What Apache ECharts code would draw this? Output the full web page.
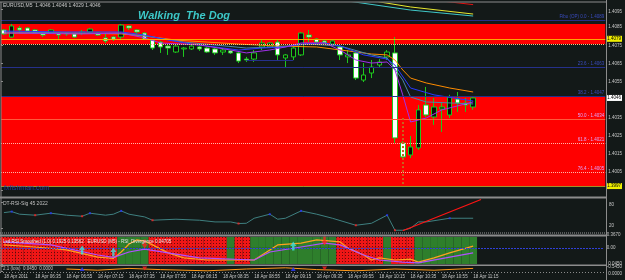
<!DOCTYPE html>
<html>
<head>
<title>index.html</title>
<meta http-equiv="content-type" content="text/html; charset=UTF-8">
<style type="text/css">
html, body { margin: 0; padding: 0; background: #131918; }
#main { width: 625px; height: 280px; }
</style>
</head>
<body>
  <div id="main"></div>
</body>
<script type="text/javascript" src="https://cdn.jsdelivr.net/npm/echarts@6/dist/echarts.min.js"></script>
<script>
  var timeLabels = ['18 Apr 2011', '18 Apr 06:35', '18 Apr 06:55', '18 Apr 07:15', '18 Apr 07:35', '18 Apr 07:55',
    '18 Apr 08:15', '18 Apr 08:35', '18 Apr 08:55', '18 Apr 09:15', '18 Apr 09:35', '18 Apr 09:55',
    '18 Apr 10:15', '18 Apr 10:35', '18 Apr 10:55', '18 Apr 11:15'];

  // open, close, low, high
  var candles = [
    [1.40835, 1.40813, 1.40807, 1.40840], [1.40796, 1.40857, 1.40791, 1.40868], [1.40846, 1.40835, 1.40818, 1.40857],
    [1.40846, 1.40829, 1.40824, 1.40851], [1.40835, 1.40818, 1.40813, 1.40840], [1.40818, 1.40807, 1.40796, 1.40824],
    [1.40818, 1.40835, 1.40813, 1.40840], [1.40818, 1.40807, 1.40785, 1.40824], [1.40818, 1.40813, 1.40802, 1.40824],
    [1.40813, 1.40796, 1.40791, 1.40818], [1.40818, 1.40824, 1.40807, 1.40835], [1.40824, 1.40840, 1.40813, 1.40846],
    [1.40818, 1.40807, 1.40802, 1.40824], [1.40791, 1.40774, 1.40763, 1.40818], [1.40796, 1.40785, 1.40774, 1.40802],
    [1.40796, 1.40862, 1.40779, 1.40868], [1.40857, 1.40846, 1.40835, 1.40862], [1.40835, 1.40824, 1.40813, 1.40840],
    [1.40818, 1.40785, 1.40779, 1.40824], [1.40779, 1.40735, 1.40724, 1.40785], [1.40768, 1.40741, 1.40708, 1.40774],
    [1.40746, 1.40735, 1.40697, 1.40752], [1.40713, 1.40746, 1.40708, 1.40752], [1.40730, 1.40735, 1.40686, 1.40741],
    [1.40730, 1.40746, 1.40724, 1.40757], [1.40741, 1.40730, 1.40719, 1.40746], [1.40735, 1.40713, 1.40708, 1.40741],
    [1.40730, 1.40708, 1.40697, 1.40735], [1.40713, 1.40724, 1.40697, 1.40735], [1.40719, 1.40708, 1.40702, 1.40724],
    [1.40708, 1.40663, 1.40652, 1.40713], [1.40674, 1.40669, 1.40658, 1.40686], [1.40674, 1.40708, 1.40658, 1.40724],
    [1.40741, 1.40763, 1.40724, 1.40779], [1.40741, 1.40763, 1.40735, 1.40768], [1.40768, 1.40697, 1.40669, 1.40779],
    [1.40680, 1.40697, 1.40630, 1.40702], [1.40686, 1.40735, 1.40669, 1.40741], [1.40697, 1.40818, 1.40691, 1.40824],
    [1.40807, 1.40796, 1.40768, 1.40835], [1.40785, 1.40768, 1.40763, 1.40791], [1.40774, 1.40763, 1.40757, 1.40779],
    [1.40757, 1.40774, 1.40752, 1.40779], [1.40741, 1.40697, 1.40669, 1.40746], [1.40686, 1.40697, 1.40652, 1.40724],
    [1.40708, 1.40569, 1.40558, 1.40713], [1.40558, 1.40586, 1.40547, 1.40652], [1.40597, 1.40630, 1.40569, 1.40669],
    [1.40641, 1.40658, 1.40630, 1.40674], [1.40686, 1.40713, 1.40669, 1.40724], [1.40708, 1.40238, 1.40210, 1.40796],
    [1.40210, 1.40133, 1.40116, 1.40221], [1.40144, 1.40188, 1.40127, 1.40249], [1.40183, 1.40393, 1.40172, 1.40420],
    [1.40420, 1.40365, 1.40354, 1.40520], [1.40354, 1.40409, 1.40310, 1.40459], [1.40398, 1.40409, 1.40271, 1.40431],
    [1.40365, 1.40464, 1.40348, 1.40476], [1.40453, 1.40431, 1.40382, 1.40492], [1.40431, 1.40420, 1.40382, 1.40459],
    [1.40409, 1.40459, 1.40393, 1.40465]
  ];

  // moving averages, [bar index, price]
  var maOrange = [[0, 1.40818], [8, 1.40818], [15, 1.40813], [18, 1.40802], [22, 1.40779], [26, 1.40768], [30, 1.40757],
    [35, 1.40746], [40, 1.40741], [44, 1.40719], [47, 1.40702], [49, 1.40697], [50, 1.40669], [51, 1.40614],
    [52, 1.40569], [54, 1.40542], [57, 1.40514], [60, 1.40492]];
  var maBlue = [[0, 1.40829], [8, 1.40824], [15, 1.40824], [18, 1.40807], [21, 1.40779], [24, 1.40757], [27, 1.40741],
    [30, 1.40724], [33, 1.40735], [36, 1.40741], [38, 1.40757], [41, 1.40763], [43, 1.40746], [46, 1.40697],
    [49, 1.40674], [50, 1.40641], [52, 1.40514], [55, 1.40476], [60, 1.40442]];
  var maPurple = [[0, 1.40818], [10, 1.40813], [15, 1.40818], [18, 1.40791], [20, 1.40763], [25, 1.40752], [29, 1.40724],
    [31, 1.40708], [34, 1.40724], [36, 1.40741], [38, 1.40763], [41, 1.40763], [43, 1.40724], [45, 1.40669],
    [47, 1.40652], [49, 1.40658], [50, 1.40614], [51, 1.40476], [52, 1.40326], [54, 1.40348], [56, 1.40393], [60, 1.40437]];
  var maTeal = [[0, 1.40824], [10, 1.40818], [15, 1.40818], [19, 1.40796], [23, 1.40768], [27, 1.40752], [31, 1.40735],
    [35, 1.40741], [39, 1.40757], [43, 1.40746], [47, 1.40697], [49, 1.40680], [51, 1.40558], [52, 1.40464],
    [54, 1.40437], [60, 1.40426]];
  var topYellow = [[46, 1.41017], [48, 1.40990], [52, 1.40962], [60, 1.40923]];
  var topCyan = [[40, 1.41028], [43, 1.41001], [52, 1.40945], [60, 1.40912]];
  var topRed = [[54, 1.41012], [56, 1.40995], [60, 1.40975]];

  var redBands = [[1.40868, 1.40757], [1.40464, 1.39972]];
  var fibLevels = [1.4089, 1.4063, 1.4047, 1.4034, 1.4021, 1.4005];
  var fibNames = ['Fibo (OP) 0.0', '23.6', '38.2', '50.0', '61.8', '76.4'];
  var priceTicks = [1.3995, 1.4005, 1.4015, 1.4025, 1.4035, 1.4055, 1.4065, 1.4075, 1.4085, 1.4095];

  // RSI panel
  var rsiLine = [[0, 55.6], [1, 57.9], [2, 52], [4, 49.7], [6, 54.3], [8, 49.7], [10, 47.3], [11, 54.3], [13, 49.7],
    [14, 52], [15, 59.6], [16, 52], [18, 45.7], [19, 38.1], [22, 40.4], [25, 38.1], [27, 34.2], [29, 34.2],
    [30, 30.5], [31, 31.1], [32, 42.7], [34, 52], [35, 40.4], [36, 42.7], [38, 59.6], [40, 52], [42, 42.7],
    [45, 26.5], [47, 31.1], [49, 49.7], [50, 15], [51, 15], [52, 19.6], [53, 34.2], [54, 34.2], [57, 42.7], [60, 42.7]];
  var rsiSignal = [[51, 14], [61, 86]];
  var rsiBlueDots = [[1, 57.9], [6, 54.3], [11, 54.3], [15, 59.6], [34, 52], [38, 59.6], [49, 49.7], [57, 42.7]];
  var rsiRedDots = [[4, 49.7], [10, 47.3], [19, 38.1], [30, 30.5], [45, 26.5], [50, 15]];
  var rsiTicks = [20, 80];

  // oscillator panel
  var oscFast = [[0, 0.10], [4, 0.03], [8, -0.07], [12, -0.31], [14, -0.36], [15, -0.14], [16, 0.13], [17, 0.27],
    [18, 0.23], [19, 0.10], [21, -0.17], [23, -0.34], [26, -0.41], [29, -0.41], [32, -0.41], [33, -0.24], [35, 0.10],
    [38, 0.16], [40, 0.27], [43, 0.20], [44, -0.01], [46, -0.24], [47, -0.41], [48, -0.34], [50, -0.41], [52, -0.38],
    [53, -0.48], [55, -0.34], [57, -0.17], [60, 0.06]];
  var oscSlow = [[0, 0.20], [6, 0.10], [12, -0.24], [14, -0.32], [16, -0.14], [18, -0.04], [21, -0.17], [25, -0.34],
    [32, -0.41], [34, -0.14], [38, 0.03], [41, 0.16], [43, 0.10], [46, -0.24], [48, -0.41], [51, -0.48], [53, -0.51],
    [60, -0.17]];
  var zoneRuns = [['r', 15], ['g', 4], ['r', 10], ['g', 1], ['r', 2], ['g', 11], ['r', 6], ['g', 1], ['r', 3], ['g', 8]];
  var upArrows = [[10, -0.07], [14, -0.14], [37, 0.06]];
  var downArrows = [[18, 0.13], [41, 0.23]];
  var oscTicks = [0.367, 0, -0.545];

  // bottom strip
  var stripLine = [[8, 0.5], [12, 0.3], [16, 0.6], [20, 0.4], [26, 0.2], [31, 0.5], [36, 0.7], [40, 0.4], [45, 0.2],
    [50, 0.5], [55, 0.3], [60, 0.6]];
  var stripDown = [[18, 0.6], [41, 0.6]];
  var stripUp = [[10, 0.5], [37, 0.5]];

  var FONT = 'Liberation Sans';
  var pMin = 1.39917, pMax = 1.40984;
  var oscMin = -0.545, oscMax = 0.367;
  var N = 78;
  var cats = [];
  for (var i = 0; i < N; i++) cats.push(String(i));

  var pat = document.createElement('canvas');
  pat.width = 3; pat.height = 3;
  var pc = pat.getContext('2d');
  pc.fillStyle = '#f01616'; pc.fillRect(0, 0, 3, 3);
  pc.fillStyle = '#6a0a0a'; pc.fillRect(0, 0, 1, 1);
  var redHatch = { image: pat, repeat: 'repeat' };

  var zones = [];
  zoneRuns.forEach(function (r) { for (var k = 0; k < r[1]; k++) zones.push(r[0]); });

  function dataGrid(top, h) { return { left: -2.3, right: 15, top: top, height: h }; }
  function frameGrid(top, h) { return { left: 1, right: 19, top: top, height: h }; }
  function catAxis(g) {
    return { type: 'category', gridIndex: g, data: cats, boundaryGap: true,
      axisLine: { show: false }, axisTick: { show: false }, splitLine: { show: false }, axisLabel: { show: false } };
  }
  function frameX(g) { return { type: 'value', gridIndex: g, min: 0, max: 1, show: false }; }
  function hiddenY(g, mn, mx) { return { type: 'value', gridIndex: g, min: mn, max: mx, show: false }; }
  function labelY(g, mn, mx, ticks, fmt) {
    return { type: 'value', gridIndex: g, min: mn, max: mx, position: 'right',
      axisLine: { show: false }, splitLine: { show: false },
      axisTick: { show: true, customValues: ticks, length: 2, lineStyle: { color: '#8a8a8a' } },
      axisLabel: { customValues: ticks, formatter: fmt, fontSize: 4.5, fontFamily: FONT, color: '#c8c8c8', margin: 3,
        verticalAlignMaxLabel: 'top', verticalAlignMinLabel: 'bottom' } };
  }
  function line(xi, yi, data, color, w, z) {
    return { type: 'line', xAxisIndex: xi, yAxisIndex: yi, data: data, symbol: 'none', silent: true,
      lineStyle: { color: color, width: w }, z: z || 4 };
  }
  function dots(xi, yi, data, color, sym, size, rot) {
    return { type: 'scatter', xAxisIndex: xi, yAxisIndex: yi, data: data, symbol: sym, symbolSize: size,
      symbolRotate: rot || 0, itemStyle: { color: color }, silent: true, z: 6 };
  }

  var levelItems = [];
  fibLevels.forEach(function (v, k) {
    var inRed = k >= 3;
    levelItems.push({ yAxis: v,
      lineStyle: { color: k < 3 ? '#25308a' : (k == 3 ? '#ff5a3c' : '#ffb4a8'), width: 1, type: k > 3 ? 'dotted' : 'solid' },
      label: { show: true, position: 'insideEndTop', distance: 1, formatter: fibNames[k] + ' - ' + v.toFixed(4),
        fontSize: 4.5, fontFamily: FONT, color: inRed ? '#dca4ff' : '#3a4cc0' } });
  });
  levelItems.push({ yAxis: 1.40757, lineStyle: { color: '#ffc080', width: 1, type: 'dotted' }, label: { show: false } });
  var boxes = [[1.40786, '#ffa500', '#f0f000'], [1.40459, 'rgba(0,0,0,0)', '#ffffff'], [1.39972, '#a0902a', '#f0f000']];
  boxes.forEach(function (b) {
    levelItems.push({ yAxis: b[0], lineStyle: { color: b[1], width: 1, type: 'solid' },
      label: { show: true, position: 'end', distance: 1, formatter: b[0].toFixed(4), backgroundColor: b[2],
        color: '#000', fontSize: 4.5, fontFamily: FONT, padding: [0.5, 1] } });
  });

  var option = {
    backgroundColor: '#131918',
    animation: false,
    grid: [dataGrid(3, 193), frameGrid(3, 193), dataGrid(199, 33), frameGrid(199, 33),
      dataGrid(237, 27), frameGrid(237, 27), dataGrid(266, 6), frameGrid(266, 6)],
    xAxis: [catAxis(0), frameX(1), catAxis(2), frameX(3), catAxis(4), frameX(5), {
      type: 'category', gridIndex: 6, data: cats, boundaryGap: true,
      axisLine: { show: false }, axisTick: { show: false }, splitLine: { show: false },
      axisLabel: { show: true, interval: 3, margin: 2.5, fontSize: 4.5, fontFamily: FONT, color: '#c8c8c8', align: 'left',
        formatter: function (v, idx) { return timeLabels[idx / 4] || ''; } }
    }, frameX(7)],
    yAxis: [
      hiddenY(0, pMin, pMax),
      labelY(1, pMin, pMax, priceTicks, function (v) { return v.toFixed(4); }),
      hiddenY(2, 11, 87),
      labelY(3, 11, 87, rsiTicks, function (v) { return String(v); }),
      hiddenY(4, oscMin, oscMax),
      labelY(5, oscMin, oscMax, oscTicks, function (v) { return v === 0 ? '0.00' : v.toFixed(4); }),
      hiddenY(6, 0, 1),
      labelY(7, -0.01, 0.05, [0.045, 0], function (v) { return v.toFixed(4); })
    ],
    series: [
      { type: 'line', xAxisIndex: 1, yAxisIndex: 1, data: [], silent: true, z: 0,
        markArea: { silent: true, itemStyle: { color: '#ff0000' },
          data: redBands.map(function (b) { return [{ yAxis: b[0] }, { yAxis: b[1] }]; }) } },
      { type: 'line', xAxisIndex: 1, yAxisIndex: 1, data: [], silent: true, z: 2,
        markLine: { silent: true, precision: 5, symbol: ['none', 'none'], data: levelItems } },
      { type: 'candlestick', xAxisIndex: 0, yAxisIndex: 0, data: candles, barWidth: 5, z: 3, silent: true,
        itemStyle: { color: '#0c0c0c', color0: '#ffffff', borderColor: '#1ec81e', borderColor0: '#1ec81e', borderWidth: 1 },
        markLine: { silent: true, precision: 5, symbol: ['none', 'none'], label: { show: false },
          data: [
            [{ coord: ['51', 1.40348], lineStyle: { color: '#c8641e', width: 2, type: 'dotted' } }, { coord: ['51', 1.39972] }],
            [{ coord: ['31', 1.40669], lineStyle: { color: '#25308a', width: 1, type: 'solid' } }, { coord: ['37', 1.40669] }]
          ] } },
      line(0, 0, maOrange, '#ff8c00', 1),
      line(0, 0, maTeal, '#4a88a8', 1),
      line(0, 0, maBlue, '#2838ff', 1),
      line(0, 0, maPurple, '#a030e8', 1),
      line(0, 0, topCyan, '#40c8c8', 1),
      line(0, 0, topYellow, '#e8e830', 1),
      line(0, 0, topRed, '#e01010', 1),

      line(2, 2, rsiLine, '#3f8080', 1),
      line(2, 2, rsiSignal, '#ff1414', 1.2),
      dots(2, 2, rsiBlueDots, '#2838ff', 'rect', 2),
      dots(2, 2, rsiRedDots, '#ff2020', 'rect', 2),

      { type: 'bar', xAxisIndex: 4, yAxisIndex: 4, barWidth: '100%', barGap: '-100%', silent: true, z: 1,
        data: zones.map(function (zn) { return { value: oscMax, itemStyle: { color: zn === 'r' ? redHatch : '#2e7f2c' } }; }) },
      { type: 'bar', xAxisIndex: 4, yAxisIndex: 4, barWidth: '100%', barGap: '-100%', silent: true, z: 1,
        data: zones.map(function (zn) { return { value: oscMin, itemStyle: { color: zn === 'r' ? redHatch : '#2e7f2c' } }; }) },
      { type: 'line', xAxisIndex: 5, yAxisIndex: 5, data: [], silent: true, z: 2,
        markLine: { silent: true, precision: 5, symbol: ['none', 'none'], label: { show: false },
          data: [{ yAxis: 0, lineStyle: { color: '#3040d8', width: 1, type: [2, 1] } }] } },
      line(4, 4, oscFast, '#ffa020', 1.2),
      line(4, 4, oscSlow, '#b050ff', 1.2),
      dots(4, 4, upArrows, '#3ee0e0', 'path://M5 0 L10 5 L7 5 L7 10 L3 10 L3 5 L0 5 Z', [6, 9]),
      dots(4, 4, downArrows, '#ff2020', 'path://M5 0 L10 5 L7 5 L7 10 L3 10 L3 5 L0 5 Z', [6, 9], 180),

      line(6, 6, stripLine, '#ff9a1a', 1),
      dots(6, 6, stripDown, '#ff2020', 'triangle', [5, 4], 180),
      dots(6, 6, stripUp, '#2838ff', 'triangle', [5, 4])
    ],
    graphic: [
      { type: 'rect', silent: true, z: 100, shape: { x: 0, y: 1.5, width: 607, height: 1 }, style: { fill: '#8c8c8c' } },
      { type: 'rect', silent: true, z: 100, shape: { x: 0.5, y: 2, width: 1, height: 270 }, style: { fill: '#8c8c8c' } },
      { type: 'rect', silent: true, z: 100, shape: { x: 606, y: 0, width: 1, height: 280 }, style: { fill: '#8c8c8c' } },
      { type: 'rect', silent: true, z: 100, shape: { x: 0, y: 196.5, width: 607, height: 2 }, style: { fill: '#8c8c8c' } },
      { type: 'line', silent: true, z: 100, shape: { x1: 0, y1: 233, x2: 606, y2: 233 }, style: { stroke: '#9a9a9a', lineWidth: 1, lineDash: [1, 1] } },
      { type: 'rect', silent: true, z: 100, shape: { x: 0, y: 234.5, width: 607, height: 2 }, style: { fill: '#8c8c8c' } },
      { type: 'rect', silent: true, z: 100, shape: { x: 0, y: 264.5, width: 607, height: 1.5 }, style: { fill: '#8c8c8c' } },
      { type: 'line', silent: true, z: 100, shape: { x1: 0, y1: 272.5, x2: 606, y2: 272.5 }, style: { stroke: '#8a8a8a', lineWidth: 1, lineDash: [1, 2] } },
      { type: 'text', silent: true, z: 101, style: { x: 3, y: 3.5, text: 'EURUSD,M5  1.4046 1.4046 1.4029 1.4046', fill: '#c8c8c8', font: '5px Liberation Sans', verticalAlign: 'top' } },
      { type: 'text', silent: true, z: 101, style: { x: 138, y: 10, text: 'Walking  The Dog', fill: '#3cc8c8', font: 'italic bold 11px Liberation Sans', verticalAlign: 'top' } },
      { type: 'text', silent: true, z: 101, style: { x: 4, y: 185, text: 'fxfishman.com', fill: '#2b3a9a', font: '7px Liberation Sans', verticalAlign: 'top' } },
      { type: 'text', silent: true, z: 101, style: { x: 3, y: 201, text: 'DT-RSI-Sig 45 2022', fill: '#c0c0c0', font: '5px Liberation Sans', verticalAlign: 'top' } },
      { type: 'text', silent: true, z: 101, style: { x: 3, y: 239.5, text: 'Lsd RSI Smoothed (1.0) 0.1925 0.13562   EURUSD (M5) - RSI_Divergence 0.04705', fill: '#e8e8e8', font: '4.5px Liberation Sans', verticalAlign: 'top' } },
      { type: 'text', silent: true, z: 101, style: { x: 3, y: 266.5, text: '2.1 (lots)  0.0450  0.0000', fill: '#c0c0c0', font: '4.5px Liberation Sans', verticalAlign: 'top' } }
    ]
  };

  var myChart = echarts.init(document.getElementById('main'));
  myChart.setOption(option);
</script>
</html>
